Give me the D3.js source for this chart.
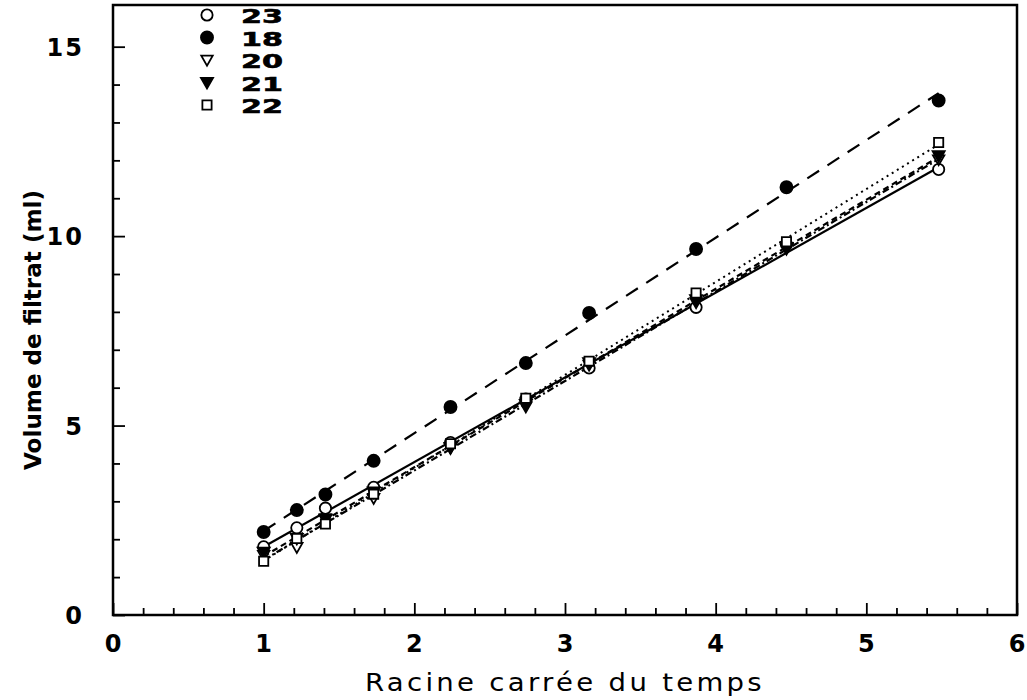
<!DOCTYPE html>
<html>
<head>
<meta charset="utf-8">
<script src="https://cdn.jsdelivr.net/npm/d3@7"></script>
<style>
  html, body { margin: 0; padding: 0; background: #fff; }
  svg { display: block; }
  text { font-family: "DejaVu Sans", sans-serif; fill: #000; }
</style>
</head>
<body>
<svg id="chart" width="1027" height="700"></svg>
<script>
// Square root of elapsed time (abscissa shared by all runs)
const racineTemps = [1, 1.22, 1.41, 1.73, 2.24, 2.74, 3.16, 3.87, 4.47, 5.48];

// Filtrate volume (ml) for each run
const serie23 = [1.80, 2.30, 2.82, 3.37, 4.55, 5.70, 6.52, 8.12, 9.78, 11.76];
const serie18 = [2.19, 2.77, 3.18, 4.07, 5.49, 6.65, 7.97, 9.66, 11.29, 13.58];
const serie20 = [1.58, 1.79, 2.55, 3.08, 4.40, 5.50, 6.60, 8.25, 9.66, 12.02];
const serie21 = [1.66, 2.02, 2.52, 3.25, 4.42, 5.56, 6.66, 8.32, 9.70, 12.12];
const serie22 = [1.42, 2.02, 2.40, 3.19, 4.52, 5.72, 6.70, 8.50, 9.85, 12.47];

const nomsSeries = ["23", "18", "20", "21", "22"];
const valeursSeries = [serie23, serie18, serie20, serie21, serie22];

const xTicks = [0, 1, 2, 3, 4, 5, 6];
const yTicks = [0, 5, 10, 15];

// Marker and line style per run
const styles = {
  "23": { symbol: d3.symbolCircle,   fill: "#fff", size: 100, dash: null },
  "18": { symbol: d3.symbolCircle,   fill: "#000", size: 115, dash: "14,10" },
  "20": { symbol: "triangle",        fill: "#fff", size: 85,  dash: "7,3,2,3" },
  "21": { symbol: "triangle",        fill: "#000", size: 95,  dash: "6,4" },
  "22": { symbol: d3.symbolSquare,   fill: "#fff", size: 85,  dash: "2,4" }
};

const svg = d3.select("#chart");
const margin = { left: 113, right: 10, top: 5, bottom: 85 };
const W = 1027, H = 700;

const x = d3.scaleLinear().domain([0, 6]).range([margin.left, W - margin.right]);
const y = d3.scaleLinear().domain([0, 16.1]).range([H - margin.bottom, margin.top]);

// Downward-pointing triangle path
function trianglePath(s) {
  const r = Math.sqrt(s) * 0.62;
  return `M${-r},${-r * 0.75}L${r},${-r * 0.75}L0,${r * 1.0}Z`;
}
function markerPath(st) {
  if (st.symbol === "triangle") return trianglePath(st.size);
  return d3.symbol().type(st.symbol).size(st.size)();
}

// Least-squares fit for each run
function fit(xs, ys) {
  const n = xs.length;
  const mx = d3.mean(xs), my = d3.mean(ys);
  let sxy = 0, sxx = 0;
  for (let i = 0; i < n; i++) { sxy += (xs[i] - mx) * (ys[i] - my); sxx += (xs[i] - mx) ** 2; }
  const b = sxy / sxx;
  return { a: my - b * mx, b };
}

// Frame
svg.append("rect")
  .attr("x", x(0)).attr("y", y(16.1))
  .attr("width", x(6) - x(0)).attr("height", y(0) - y(16.1))
  .attr("fill", "none").attr("stroke", "#000").attr("stroke-width", 2.5);

// Inward ticks on x axis
const xAxis = d3.axisTop(x).tickValues(d3.range(0, 6.01, 0.2)).tickFormat("").tickSizeOuter(0)
  .tickSize(6);
const gx = svg.append("g").attr("transform", `translate(0,${y(0)})`).call(xAxis);
gx.select(".domain").remove();
gx.selectAll(".tick line")
  .attr("stroke-width", 1.8)
  .attr("y2", d => (Math.abs(d - Math.round(d)) < 1e-6 ? -12 : -7));

// Inward ticks on y axis
const yAxis = d3.axisRight(y).tickValues(d3.range(0, 15.01, 1)).tickFormat("").tickSizeOuter(0)
  .tickSize(6);
const gy = svg.append("g").attr("transform", `translate(${x(0)},0)`).call(yAxis);
gy.select(".domain").remove();
gy.selectAll(".tick line")
  .attr("stroke-width", 1.8)
  .attr("x2", d => (d % 5 === 0 ? 12 : 7));

// Tick labels
svg.append("g").selectAll("text").data(xTicks).join("text")
  .attr("x", d => x(d)).attr("y", 652)
  .attr("text-anchor", "middle")
  .attr("font-size", 24).attr("font-weight", "bold")
  .text(d => d);

svg.append("g").selectAll("text").data(yTicks).join("text")
  .attr("x", 84).attr("y", d => y(d) + 9)
  .attr("text-anchor", "end")
  .attr("font-size", 24).attr("font-weight", "bold").attr("letter-spacing", 2)
  .text(d => d);

// Axis titles
svg.append("text")
  .attr("x", x(3)).attr("y", 691)
  .attr("text-anchor", "middle")
  .attr("font-size", 25).attr("letter-spacing", 3)
  .attr("textLength", 400).attr("lengthAdjust", "spacingAndGlyphs")
  .text("Racine carrée du temps");

svg.append("text")
  .attr("transform", `translate(41,${330}) rotate(-90)`)
  .attr("text-anchor", "middle")
  .attr("font-size", 23).attr("font-weight", "bold")
  .attr("textLength", 280).attr("lengthAdjust", "spacingAndGlyphs")
  .text("Volume de filtrat (ml)");

// Fitted lines
const xmin = d3.min(racineTemps), xmax = d3.max(racineTemps);
nomsSeries.forEach((nom, i) => {
  const f = fit(racineTemps, valeursSeries[i]);
  const st = styles[nom];
  svg.append("line")
    .attr("x1", x(xmin)).attr("y1", y(f.a + f.b * xmin))
    .attr("x2", x(xmax)).attr("y2", y(f.a + f.b * xmax))
    .attr("stroke", "#000")
    .attr("stroke-width", nom === "22" ? 2 : 2.2)
    .attr("stroke-dasharray", st.dash);
});

// Data markers
nomsSeries.forEach((nom, i) => {
  const st = styles[nom];
  svg.append("g").selectAll("path").data(valeursSeries[i]).join("path")
    .attr("transform", (d, j) => `translate(${x(racineTemps[j])},${y(d)})`)
    .attr("d", markerPath(st))
    .attr("fill", st.fill)
    .attr("stroke", "#000")
    .attr("stroke-width", 1.8);
});

// Legend
const legend = svg.append("g");
nomsSeries.forEach((nom, i) => {
  const st = styles[nom];
  const cy = 15 + i * 22.5;
  legend.append("path")
    .attr("transform", `translate(207,${cy})`)
    .attr("d", markerPath(st))
    .attr("fill", st.fill).attr("stroke", "#000").attr("stroke-width", 1.8);
  legend.append("text")
    .attr("x", 241).attr("y", cy + 8)
    .attr("font-size", 19).attr("font-weight", "bold")
    .attr("stroke", "#000").attr("stroke-width", 0.6)
    .attr("textLength", 42).attr("lengthAdjust", "spacingAndGlyphs")
    .text(nom);
});
</script>
</body>
</html>
